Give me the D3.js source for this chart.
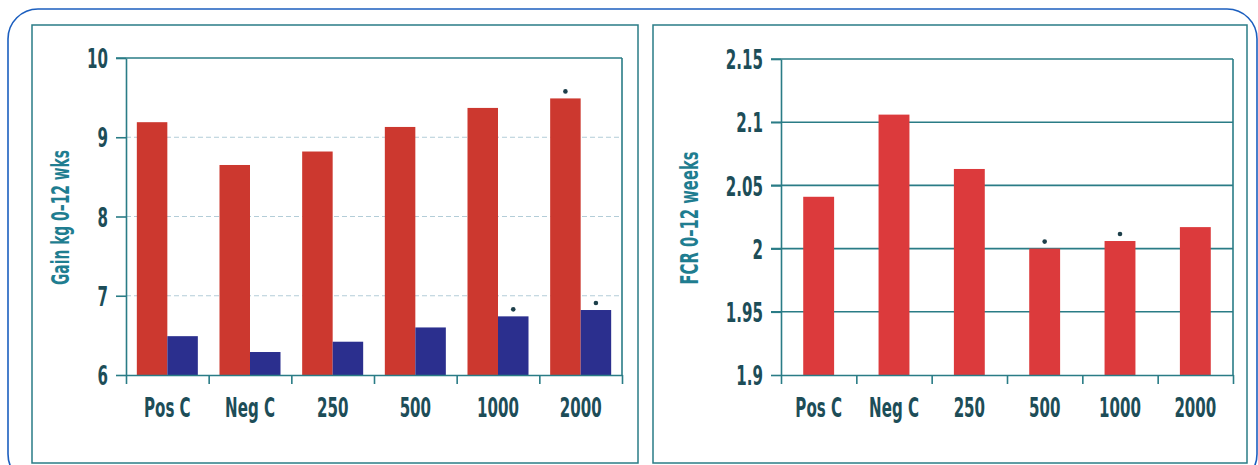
<!DOCTYPE html>
<html>
<head>
<meta charset="utf-8">
<script src="https://cdn.jsdelivr.net/npm/d3@7"></script>
<style>
  html, body { margin: 0; padding: 0; background: #ffffff; }
  svg { display: block; }
</style>
</head>
<body>
<svg id="chart" width="1258" height="465"></svg>
<script>
const categories = ["Pos C", "Neg C", "250", "500", "1000", "2000"];
const gainRed = [9.19, 8.65, 8.82, 9.13, 9.37, 9.49];
const gainBlue = [6.49, 6.29, 6.42, 6.60, 6.74, 6.82];
const gainRedSig = [false, false, false, false, false, true];
const gainBlueSig = [false, false, false, false, true, true];
const gainTicks = [6, 7, 8, 9, 10];
const fcrValues = [2.041, 2.106, 2.063, 2.000, 2.006, 2.017];
const fcrSig = [false, false, false, true, true, false];
const fcrTicks = [1.9, 1.95, 2, 2.05, 2.1, 2.15];
const gainTitle = "Gain kg 0\u201312 wks";
const fcrTitle = "FCR 0\u201312 weeks";

const svg = d3.select("#chart");
const FONT = "'Liberation Sans Narrow', 'DejaVu Sans Condensed', 'Roboto Condensed', sans-serif";
const TEAL = "#2a7c86";
const TEXT_DARK = "#1d4d58";
const TITLE_TEAL = "#1f7d90";
const SX = 0.62; // horizontal condensation of labels

// Outer rounded frame
svg.append("rect")
  .attr("x", 8).attr("y", 9).attr("width", 1249).attr("height", 475)
  .attr("rx", 30).attr("ry", 30)
  .attr("fill", "none").attr("stroke", "#1c5fbf").attr("stroke-width", 1.6);

// Panel boxes
[[32, 25, 606, 438], [653, 25, 594, 438]].forEach(([x, y, w, h]) => {
  svg.append("rect").attr("x", x).attr("y", y).attr("width", w).attr("height", h)
    .attr("fill", "none").attr("stroke", TEAL).attr("stroke-width", 1.5);
});

function drawPanel(opts) {
  const { left, right, top, bottom, domain, ticks, gridStyle, title, titleX } = opts;
  const g = svg.append("g");
  const y = d3.scaleLinear().domain(domain).range([bottom, top]);
  const x = d3.scaleBand().domain(categories).range([left, right])
    .paddingInner(opts.padInner).paddingOuter(opts.padInner / 2);
  const xb = d3.scaleLinear().domain([0, categories.length]).range([left, right]);

  // gridlines
  const grid = g.append("g");
  ticks.slice(1, -1).forEach(t => {
    const ln = grid.append("line")
      .attr("x1", gridStyle.solid ? left - 10 : left).attr("x2", right)
      .attr("y1", y(t)).attr("y2", y(t));
    if (gridStyle.solid) {
      ln.attr("stroke", TEAL).attr("stroke-width", 1.6);
    } else {
      ln.attr("stroke", "#b3cdd8").attr("stroke-width", 1).attr("stroke-dasharray", "5,3");
    }
  });
  // top border line and right border
  g.append("line").attr("x1", left - 10).attr("x2", right)
    .attr("y1", y(domain[1])).attr("y2", y(domain[1]))
    .attr("stroke", TEAL).attr("stroke-width", 1.6);
  g.append("line").attr("x1", right).attr("x2", right)
    .attr("y1", y(domain[1])).attr("y2", bottom)
    .attr("stroke", TEAL).attr("stroke-width", 1.6);

  opts.drawBars(g, x, y);

  // y axis
  const ya = g.append("g").attr("transform", `translate(${left},0)`)
    .call(d3.axisLeft(y).tickValues(ticks).tickSize(10).tickSizeOuter(0).tickFormat(d => String(d)));
  ya.select(".domain").attr("stroke", TEAL).attr("stroke-width", 1.6);
  ya.selectAll(".tick line").attr("stroke", TEAL).attr("stroke-width", 1.6);
  ya.selectAll(".tick text")
    .attr("x", -18 / SX).attr("dy", "0.36em")
    .attr("transform", `scale(${SX},1)`)
    .attr("font-family", FONT).attr("font-weight", "bold").attr("font-size", 27)
    .attr("fill", TEXT_DARK);

  // x axis: boundary ticks
  const xbAxis = g.append("g").attr("transform", `translate(0,${bottom})`)
    .call(d3.axisBottom(xb).tickValues(d3.range(categories.length + 1)).tickSize(9).tickSizeOuter(0).tickFormat(""));
  xbAxis.select(".domain").attr("stroke", TEAL).attr("stroke-width", 1.6);
  xbAxis.selectAll(".tick line").attr("stroke", TEAL).attr("stroke-width", 1.6);

  // x axis: category labels
  const xa = g.append("g").attr("transform", `translate(0,${bottom})`)
    .call(d3.axisBottom(x).tickSize(0).tickPadding(0));
  xa.select(".domain").remove();
  xa.selectAll(".tick text")
    .attr("y", 42).attr("dy", 0).attr("x", 0)
    .attr("transform", `scale(${SX},1)`)
    .attr("font-family", FONT).attr("font-weight", "bold").attr("font-size", 27)
    .attr("fill", TEXT_DARK);

  // title
  const ty = (top + bottom) / 2 + 1;
  g.append("text")
    .attr("transform", `translate(${titleX},${ty}) rotate(-90)`)
    .attr("text-anchor", "middle").attr("dy", "0.35em")
    .attr("font-family", FONT).attr("font-weight", "bold").attr("font-size", 25)
    .attr("textLength", opts.titleLen).attr("lengthAdjust", "spacingAndGlyphs")
    .attr("fill", TITLE_TEAL)
    .text(title);
}

// Left panel: gain
drawPanel({
  left: 126, right: 622, top: 58, bottom: 375,
  domain: [6, 10], ticks: gainTicks, padInner: 0.262,
  gridStyle: { solid: false }, title: gainTitle, titleX: 60, titleLen: 135,
  drawBars(g, x, y) {
    const sub = d3.scaleBand().domain(["red", "blue"]).range([0, x.bandwidth()]);
    const rows = categories.map((c, i) => ({ c, red: gainRed[i], blue: gainBlue[i], rs: gainRedSig[i], bs: gainBlueSig[i] }));
    const colors = { red: "#cc382f", blue: "#2b2f8e" };
    ["red", "blue"].forEach(k => {
      g.append("g").selectAll("rect").data(rows).join("rect")
        .attr("x", d => x(d.c) + sub(k))
        .attr("width", sub.bandwidth())
        .attr("y", d => y(d[k]))
        .attr("height", d => y(6) - y(d[k]))
        .attr("fill", colors[k]);
      const sk = k === "red" ? "rs" : "bs";
      g.append("g").selectAll("circle").data(rows.filter(d => d[sk])).join("circle")
        .attr("cx", d => x(d.c) + sub(k) + sub.bandwidth() / 2)
        .attr("cy", d => y(d[k]) - 7)
        .attr("r", 2.3)
        .attr("fill", "#1d3f4a");
    });
  }
});

// Right panel: FCR
drawPanel({
  left: 781, right: 1233, top: 59, bottom: 375,
  domain: [1.9, 2.15], ticks: fcrTicks, padInner: 0.59,
  gridStyle: { solid: true }, title: fcrTitle, titleX: 689, titleLen: 133,
  drawBars(g, x, y) {
    const rows = categories.map((c, i) => ({ c, v: fcrValues[i], s: fcrSig[i] }));
    g.append("g").selectAll("rect").data(rows).join("rect")
      .attr("x", d => x(d.c))
      .attr("width", x.bandwidth())
      .attr("y", d => y(d.v))
      .attr("height", d => y(1.9) - y(d.v))
      .attr("fill", "#dc3a3c");
    g.append("g").selectAll("circle").data(rows.filter(d => d.s)).join("circle")
      .attr("cx", d => x(d.c) + x.bandwidth() / 2)
      .attr("cy", d => y(d.v) - 7)
      .attr("r", 2.3)
      .attr("fill", "#1d3f4a");
  }
});
</script>
</body>
</html>
